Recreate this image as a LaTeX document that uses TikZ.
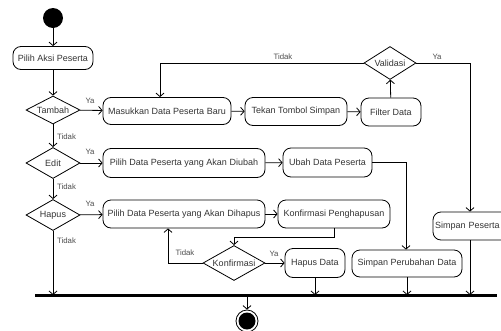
\documentclass[tikz,border=0pt]{standalone}
\usepackage{fontspec}
\setmainfont{Liberation Sans}
\usetikzlibrary{shapes.geometric,arrows.meta}
\begin{document}
\begin{tikzpicture}[x=1pt,y=-1pt,
  every node/.style={font=\fontsize{9}{10}\selectfont, text=black!80},
  act/.style={draw=black, line width=0.8pt, rounded corners=8pt, minimum height=28pt, inner sep=1pt},
  dec/.style={draw=black, line width=0.8pt, diamond, aspect=1.8, inner sep=0pt},
  flow/.style={draw=black, line width=0.8pt, -{Straight Barb[length=3.5pt,width=8pt]}},
  lbl/.style={font=\fontsize{7.8}{9}\selectfont, text=black!70, inner sep=1pt}]
\useasboundingbox (0,0) rectangle (501,330);

% start and end
\node[circle, fill=black, minimum size=20pt, inner sep=0pt] (start) at (53,18) {};
\node[circle, draw=black, line width=0.8pt, minimum size=22pt, inner sep=0pt] (end) at (247,321) {};
\fill[black] (end.center) circle (8.5pt);

% activities
\node[act, minimum width=80pt, minimum height=23pt] (aksi) at (53,58) {Pilih Aksi Peserta};
\node[act, minimum width=128pt, minimum height=27pt] (masuk) at (167,111) {Masukkan Data Peserta Baru};
\node[act, minimum width=102pt] (tekan) at (296,111.5) {Tekan Tombol Simpan};
\node[act, minimum width=60pt] (filter) at (391,112) {Filter Data};
\node[act, minimum width=162pt, minimum height=29pt] (pubah) at (184,163) {Pilih Data Peserta yang Akan Diubah};
\node[act, minimum width=89pt, minimum height=29pt] (ubah) at (327.5,162.5) {Ubah Data Peserta};
\node[act, minimum width=162pt] (phapus) at (184,214) {Pilih Data Peserta yang Akan Dihapus};
\node[act, minimum width=112pt] (konf) at (334,214) {Konfirmasi Penghapusan};
\node[act, minimum width=60pt, minimum height=29pt] (hdata) at (315,263) {Hapus Data};
\node[act, minimum width=110pt, minimum height=27pt] (sper) at (407,263.5) {Simpan Perubahan Data};
\node[act, minimum width=84pt, text width=80pt, align=left] (speserta) at (475,226) {Simpan Peserta};

% decisions
\node[dec, minimum width=54pt, minimum height=28pt] (tambah) at (53,110) {Tambah};
\node[dec, minimum width=54pt, minimum height=31pt] (edit) at (53,163) {Edit};
\node[dec, minimum width=54pt, minimum height=31pt] (hapus) at (53,215) {Hapus};
\node[dec, minimum width=52pt, minimum height=33pt] (valid) at (390,63) {Validasi};
\node[dec, minimum width=62pt, minimum height=35pt] (kdec) at (234,263) {Konfirmasi};

% join bar
\coordinate (barL) at (35,295);
\coordinate (barR) at (497,295);
\draw[line width=3pt] (barL) -- (barR);

% main flow
\draw[flow] (start) -- (aksi);
\draw[flow] (aksi) -- (tambah);
\draw[flow] (tambah) -- (edit);
\draw[flow] (edit) -- (hapus);
\draw[flow] (hapus.south) -- (hapus.south |- barL);

\draw[flow] (tambah) -- (masuk);
\draw[flow] (masuk) -- (tekan);
\draw[flow] (tekan) -- (filter);
\draw[flow] (filter) -- (valid);
\coordinate (vt) at (160,63);
\draw[flow] (valid.west) -- (vt) -- (vt |- masuk.north);
\coordinate (vy) at (470,63);
\draw[flow] (valid.east) -- (vy) -- (vy |- speserta.north);
\draw[flow] (vy |- speserta.south) -- (vy |- barL);

\draw[flow] (edit) -- (pubah);
\draw[flow] (pubah) -- (ubah);
\coordinate (uc) at (406,162.5);
\draw[flow] (ubah.east) -- (uc) -- (uc |- sper.north);
\draw[flow] (sper.south) -- (sper.south |- barL);

\draw[flow] (hapus) -- (phapus);
\draw[flow] (phapus) -- (konf);
\coordinate (k1) at (334,237);
\coordinate (k2) at (234,237);
\draw[flow] (konf.south) -- (k1) -- (k2) -- (kdec.north);
\coordinate (kt) at (168,263);
\draw[flow] (kdec.west) -- (kt) -- (kt |- phapus.south);
\draw[flow] (kdec) -- (hdata);
\draw[flow] (hdata.south) -- (hdata.south |- barL);

\coordinate (bj) at (247,295);
\draw[flow] (bj) -- (end);

% guard labels
\node[lbl] at (90,101) {Ya};
\node[lbl] at (90,152) {Ya};
\node[lbl] at (90,204) {Ya};
\node[lbl, anchor=west] at (56,137) {Tidak};
\node[lbl, anchor=west] at (56,187) {Tidak};
\node[lbl, anchor=west] at (56,241) {Tidak};
\node[lbl] at (283,57) {Tidak};
\node[lbl] at (437,57) {Ya};
\node[lbl] at (185,253) {Tidak};
\node[lbl] at (274,254) {Ya};
\end{tikzpicture}
\end{document}
